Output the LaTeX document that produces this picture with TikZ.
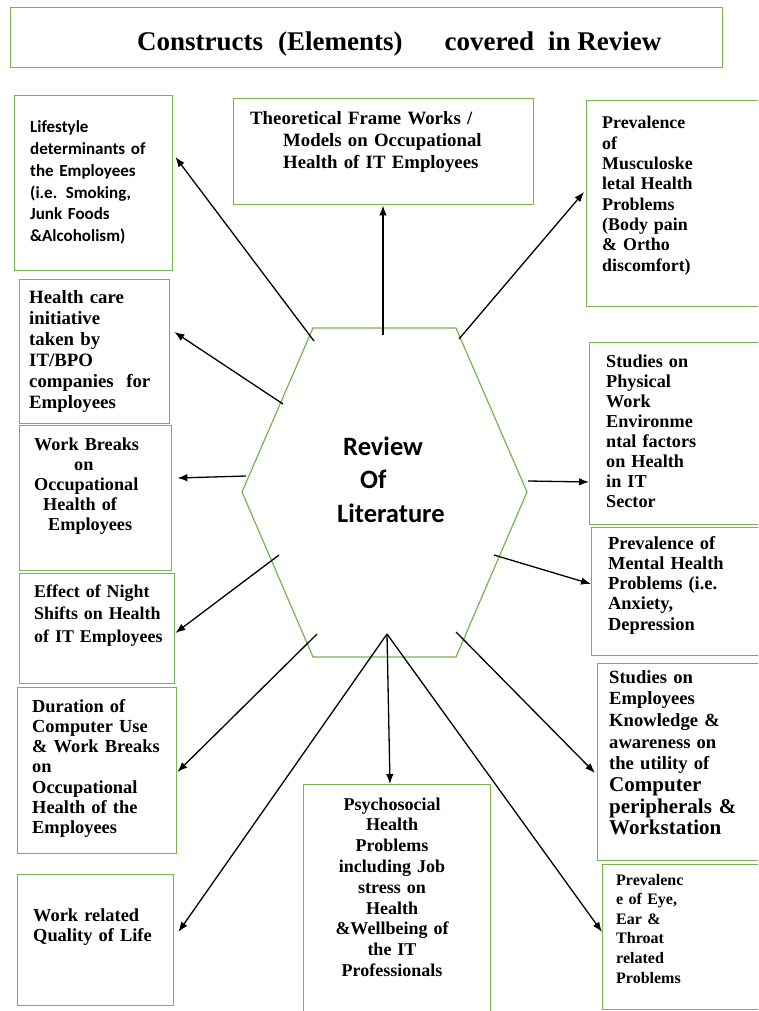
\documentclass[tikz,border=0pt]{standalone}
\usepackage{fontspec}
\usetikzlibrary{arrows.meta}
\newfontfamily\calib{Carlito}
\newfontfamily\tnr{Liberation Serif}
\definecolor{boxgreen}{RGB}{120,180,80}

\begin{document}
\begin{tikzpicture}[
        x=1pt, y=-1pt,
        box/.style={draw=boxgreen, line width=1.4pt, anchor=north west, inner sep=0pt},
        txt/.style={anchor=base west, inner sep=0pt, text width=190pt, align=left,
            font=\tnr\bfseries\fontsize{18.4}{20.3}\selectfont},
        arr/.style={-{Latex[length=10pt,width=7.5pt]}, line width=1.3pt}
    ]
        \path[use as bounding box] (0,0) rectangle (758,1011);
        \fill[white] (0,0) rectangle (758,1011);
        \clip (0,0) rectangle (758,1011);

        % title
        \node[box, minimum width=712pt, minimum height=60pt] (title) at (10,7) {};
        \node[anchor=base west, inner sep=0pt, font=\tnr\bfseries\fontsize{27}{30}\selectfont] (titleT) at (137,51)
            {Constructs\hspace{15pt}(Elements)\hspace{42pt}covered\hspace{14pt}in Review};

        % centre hexagon
        \coordinate (h1) at (313,328);
        \coordinate (h2) at (456,328);
        \coordinate (h3) at (527,492);
        \coordinate (h4) at (456,657);
        \coordinate (h5) at (313,657);
        \coordinate (h6) at (242,492);
        \draw[boxgreen, line width=1.2pt] (h1) -- (h2) -- (h3) -- (h4) -- (h5) -- (h6) -- cycle;
        \node[txt, text width=130pt, font=\calib\bfseries\fontsize{26.5}{33.5}\selectfont] (rev) at (337,455)
            {\hspace*{6pt}Review\\\hspace*{23pt}Of\\Literature};

        % boxes
        \node[box, minimum width=158pt, minimum height=175pt] (life) at (14,95) {};
        \node[box, minimum width=300pt, minimum height=106pt] (theo) at (233,98) {};
        \node[box, minimum width=204pt, minimum height=206pt] (musc) at (586,100) {};
        \node[box, minimum width=150pt, minimum height=144pt] (hc) at (19,279) {};
        \node[box, minimum width=201pt, minimum height=182pt] (phys) at (589,342) {};
        \node[box, minimum width=152pt, minimum height=145pt] (wb) at (19,425) {};
        \node[box, minimum width=199pt, minimum height=128pt] (ment) at (591,527) {};
        \node[box, minimum width=155pt, minimum height=110pt] (night) at (19,573) {};
        \node[box, minimum width=193pt, minimum height=197pt] (emp) at (597,663) {};
        \node[box, minimum width=159pt, minimum height=166pt] (dur) at (17,687) {};
        \node[box, minimum width=187pt, minimum height=246pt] (psy) at (303,784) {};
        \node[box, minimum width=156pt, minimum height=131pt] (qol) at (17,874) {};
        \node[box, minimum width=188pt, minimum height=145pt] (eye) at (602,864) {};

        % box texts
        \node[txt, font=\calib\bfseries\fontsize{17}{21.7}\selectfont] (lifeT) at (30,133)
            {Lifestyle\\determinants of\\the Employees\\(i.e. Smoking,\\Junk Foods\\\&Alcoholism)};
        \node[txt, text width=290pt, font=\tnr\bfseries\fontsize{18.8}{22}\selectfont] (theoT) at (250,125)
            {Theoretical Frame Works /\\\hspace*{33pt}Models on Occupational\\\hspace*{33pt}Health of IT Employees};
        \node[txt, font=\tnr\bfseries\fontsize{17.9}{20.3}\selectfont] (muscT) at (602,129)
            {Prevalence\\of\\Musculoske\\letal Health\\Problems\\(Body pain\\\& Ortho\\discomfort)};
        \node[txt, font=\tnr\bfseries\fontsize{18.8}{21}\selectfont] (hcT) at (29,303)
            {Health care\\initiative\\taken by\\IT/BPO\\companies\ \ for\\Employees};
        \node[txt, font=\tnr\bfseries\fontsize{18.2}{20}\selectfont] (physT) at (606,367)
            {Studies on\\Physical\\Work\\Environme\\ntal factors\\on Health\\in IT\\Sector};
        \node[txt, font=\tnr\bfseries\fontsize{18.2}{20}\selectfont] (wbT) at (34,450)
            {Work Breaks\\\hspace*{40pt}on\\Occupational\\\hspace*{9pt}Health of\\\hspace*{14pt}Employees};
        \node[txt] (mentT) at (608,549)
            {Prevalence of\\Mental Health\\Problems (i.e.\\Anxiety,\\Depression};
        \node[txt, font=\tnr\bfseries\fontsize{17.9}{22.5}\selectfont] (nightT) at (34,597)
            {Effect of Night\\Shifts on Health\\of IT Employees};
        \node[txt, font=\tnr\bfseries\fontsize{18.6}{21.7}\selectfont] (empT) at (609,683)
            {Studies on\\Employees\\Knowledge \&\\awareness on\\the utility of\\
             \scalebox{1.13}{Computer}\\
             \scalebox{1.13}{peripherals \&}\\
             \scalebox{1.13}{Workstation}};
        \node[txt] (durT) at (32,712)
            {Duration of\\Computer Use\\\& Work Breaks\\on\\Occupational\\Health of the\\Employees};
        \node[txt, anchor=base, text width=190pt, align=center, font=\tnr\bfseries\fontsize{18}{20.8}\selectfont] (psyT) at (392,810)
            {Psychosocial\\Health\\Problems\\including Job\\stress on\\Health\\\&Wellbeing of\\the IT\\Professionals};
        \node[txt] (qolT) at (33,921)
            {Work related\\Quality of Life};
        \node[txt, font=\tnr\bfseries\fontsize{16}{19.6}\selectfont] (eyeT) at (616,885)
            {Prevalenc\\e of Eye,\\Ear \&\\Throat\\related\\Problems};

        % arrow starts
        \coordinate (sTheo) at (383,335);
        \coordinate (sLife) at (314,341);
        \coordinate (sMusc) at (459,339);
        \coordinate (sHc) at (283,404);
        \coordinate (sWb) at (246,476);
        \coordinate (sPhys) at (528,481);
        \coordinate (sNight) at (279,555);
        \coordinate (sMent) at (494,555);
        \coordinate (sDur) at (317,634);
        \coordinate (sEmp) at (456,632);
        \coordinate (sFan) at (387,634);

        \draw[arr] (sTheo) -- ([shift={(150,0)}]theo.south west);
        \draw[arr] (sLife) -- ([shift={(2,62)}]life.north east);
        \draw[arr] (sMusc) -- ([shift={(-2,92)}]musc.north west);
        \draw[arr] (sHc) -- ([shift={(4,53)}]hc.north east);
        \draw[arr] (sWb) -- ([shift={(5,53)}]wb.north east);
        \draw[arr] (sPhys) -- ([shift={(0,140)}]phys.north west);
        \draw[arr] (sNight) -- ([shift={(0,60)}]night.north east);
        \draw[arr] (sMent) -- ([shift={(0,57)}]ment.north west);
        \draw[arr] (sDur) -- ([shift={(0,85)}]dur.north east);
        \draw[arr] (sEmp) -- ([shift={(-2,110)}]emp.north west);
        \draw[arr] (sFan) -- ([shift={(4,58)}]qol.north east);
        \draw[arr] (sFan) -- ([shift={(87,0)}]psy.north west);
        \draw[arr] (sFan) -- ([shift={(0,68)}]eye.north west);
    \end{tikzpicture}
\end{document}
